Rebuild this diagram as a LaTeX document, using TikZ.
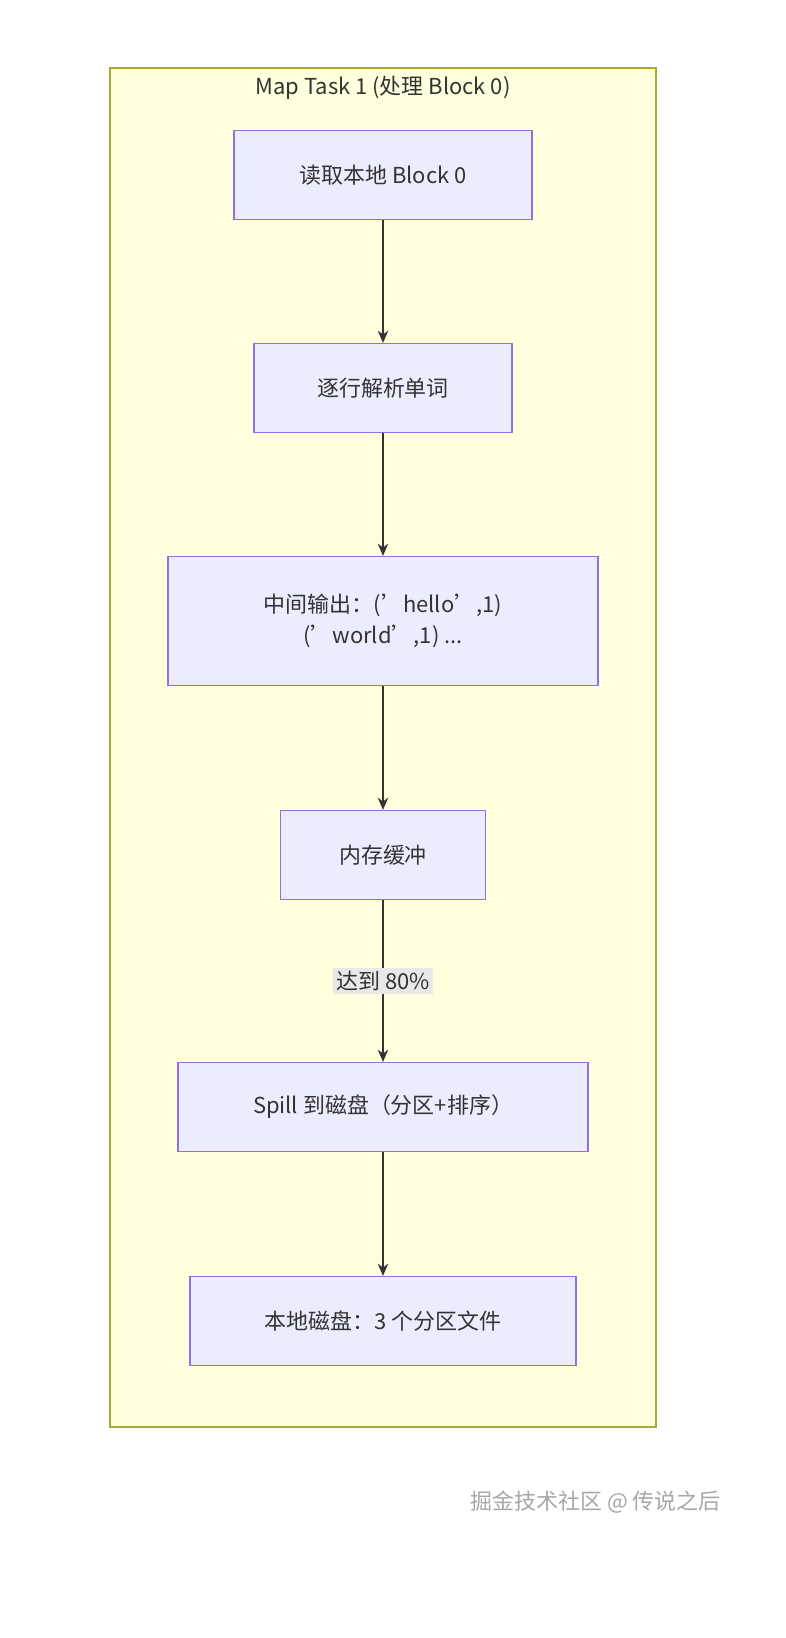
\documentclass[tikz,border=0pt]{standalone}
\usepackage{fontspec}
\setmainfont{Noto Sans CJK SC}
\usetikzlibrary{positioning,arrows.meta}
\definecolor{boxfill}{HTML}{ECECFF}
\definecolor{boxline}{HTML}{9370DB}
\definecolor{clfill}{HTML}{FFFFDE}
\definecolor{clline}{HTML}{AAAA33}
\definecolor{txt}{HTML}{333333}
\definecolor{lblbg}{HTML}{E8E8E8}
\tikzset{
 stage/.style={draw=boxline,fill=boxfill,line width=0.7pt,text=txt,align=center,
   font=\fontsize{12.5pt}{18pt}\selectfont,minimum height=1.78cm,inner sep=0pt},
 flow/.style={draw=txt,line width=0.7pt,-{Stealth[length=7pt,width=6pt]}},
}
\begin{document}
\begin{tikzpicture}[x=0.02cm,y=-0.02cm]
 \useasboundingbox (0,0) rectangle (785,1638);
 \draw[fill=clfill,draw=clline,line width=0.7pt] (110,68) rectangle (656,1427); %子图
 \node[text=txt,font=\fontsize{12.5pt}{15pt}\selectfont] (title) at (383,88) {Map Task 1 (处理 Block 0)};
 \node[stage,minimum width=5.96cm] (read) at (383,175) {读取本地 Block 0};
 \node[stage,minimum width=5.16cm] (parse) at (383,388) {逐行解析单词};
 \node[stage,minimum width=8.6cm,minimum height=2.58cm] (mid) at (383,621) {中间输出：('hello',1)\\('world',1) ...};
 \node[stage,minimum width=4.1cm] (buf) at (383,855) {内存缓冲};
 \node[stage,minimum width=8.2cm] (spill) at (383,1107) {Spill 到磁盘（分区+排序）};
 \node[stage,minimum width=7.72cm] (disk) at (383,1321) {本地磁盘：3 个分区文件};
 \draw[flow] (read) -- (parse);
 \draw[flow] (parse) -- (mid);
 \draw[flow] (mid) -- (buf);
 \draw[flow] (buf) -- node[fill=lblbg,text=txt,inner sep=2pt,font=\fontsize{12.5pt}{15pt}\selectfont] {达到 80\%} (spill);
 \draw[flow] (spill) -- (disk);
 \node[text=gray!70,anchor=east,font=\fontsize{12.5pt}{15pt}\selectfont] (mark) at (727,1502) {掘金技术社区 @ 传说之后}; %水印
\end{tikzpicture}
\end{document}
